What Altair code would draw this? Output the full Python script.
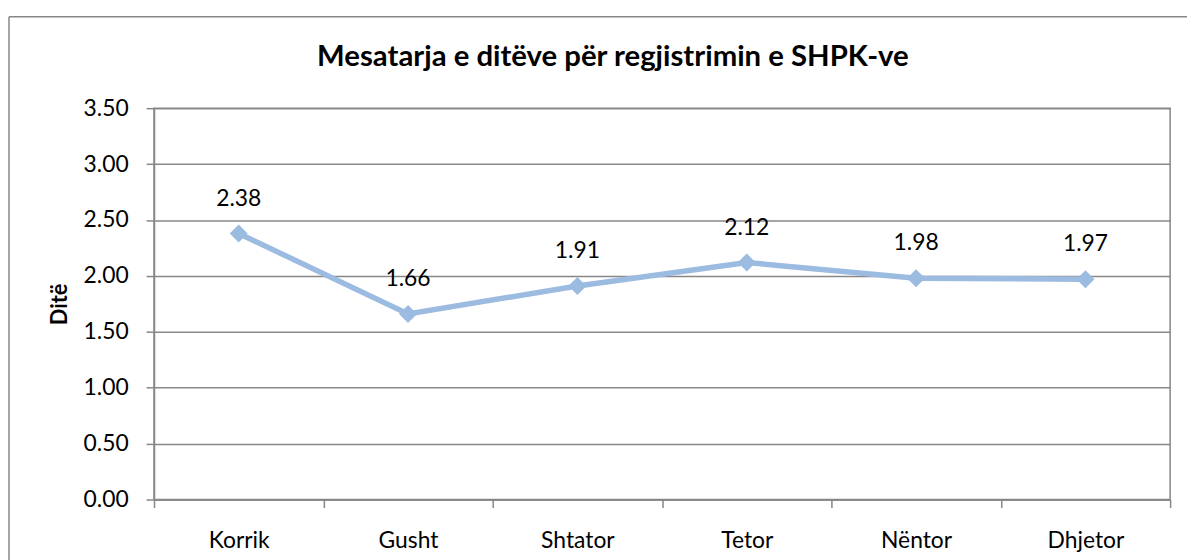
import altair as alt
import pandas as pd

months = ["Korrik", "Gusht", "Shtator", "Tetor", "Nëntor", "Dhjetor"]
values = [2.38, 1.66, 1.91, 2.12, 1.98, 1.97]
y_ticks = [0, 0.5, 1.0, 1.5, 2.0, 2.5, 3.0, 3.5]

title_text = "Mesatarja e ditëve për regjistrimin e SHPK-ve"
y_title = "Ditë"

df = pd.DataFrame({"month": months, "value": values})

W, H = 1023, 394
FONT = "Lato"
GRID = "#878787"
LINE = "#9bbbe0"

x_enc = alt.X(
    "month:N",
    sort=months,
    scale=alt.Scale(paddingInner=0, paddingOuter=0),
    axis=alt.Axis(
        title=None,
        labelAngle=0,
        labelFont=FONT,
        labelFontSize=23,
        labelColor="#000000",
        labelPadding=22,
        tickBand="extent",
        ticks=True,
        tickSize=8,
        tickColor=GRID,
        tickWidth=1.5,
        domainColor=GRID,
        domainWidth=1.5,
        grid=False,
    ),
)
y_enc = alt.Y(
    "value:Q",
    scale=alt.Scale(domain=[0, 3.5], nice=False),
    axis=alt.Axis(
        values=y_ticks,
        format=".2f",
        title=y_title,
        titleFont=FONT,
        titleFontSize=22,
        titleFontWeight="bold",
        titleColor="#000000",
        titleAngle=270,
        titleAlign="center",
        titleBaseline="middle",
        titleX=-95,
        titleY=H / 2,
        labelFont=FONT,
        labelFontSize=23,
        labelColor="#000000",
        labelPadding=18,
        tickSize=8,
        tickColor=GRID,
        tickWidth=1.5,
        domainColor=GRID,
        domainWidth=1.5,
        grid=True,
        gridColor=GRID,
        gridWidth=1.5,
    ),
)

base = alt.Chart(df).encode(x=x_enc, y=y_enc)

line = base.mark_line(color=LINE, strokeWidth=5.5)
points = base.mark_point(shape="diamond", filled=True, size=330, color=LINE, opacity=1)
labels = base.mark_text(
    font=FONT, fontSize=23, color="#000000", baseline="alphabetic", dy=-28
).encode(text=alt.Text("value:Q", format=".2f"))

title = alt.Chart(pd.DataFrame({"t": [title_text]})).mark_text(
    font=FONT, fontSize=29.5, fontWeight="bold", color="#000000", baseline="alphabetic"
).encode(x=alt.value(462), y=alt.value(-42), text="t:N")

frame_left = alt.Chart(pd.DataFrame({"a": [0]})).mark_rule(color=GRID, strokeWidth=1.5).encode(
    x=alt.value(-146), y=alt.value(-92), y2=alt.value(460)
)
frame_top = alt.Chart(pd.DataFrame({"a": [0]})).mark_rule(color=GRID, strokeWidth=1.5).encode(
    x=alt.value(-146), x2=alt.value(1050), y=alt.value(-92)
)

chart = (
    alt.layer(frame_left, frame_top, title, line, points, labels)
    .properties(
        width=W,
        height=H,
        autosize=alt.AutoSizeParams(type="none"),
        padding={"left": 147, "top": 99, "right": 17, "bottom": 59},
        background="white",
    )
    .configure_view(stroke=GRID, strokeWidth=1.5)
)

chart.save("out.html", embed_options={"renderer": "svg", "actions": False})
